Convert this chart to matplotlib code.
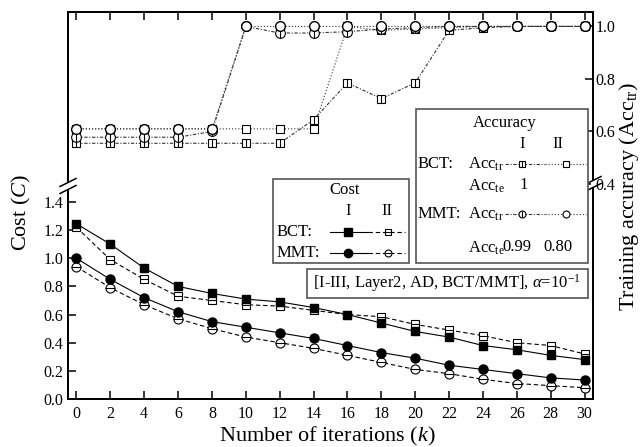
import matplotlib
matplotlib.use("Agg")
import matplotlib.pyplot as plt
from matplotlib.lines import Line2D
from matplotlib.patches import Rectangle

plt.rcParams['font.family'] = ['Liberation Serif', 'DejaVu Serif']
plt.rcParams['mathtext.fontset'] = 'custom'
plt.rcParams['mathtext.rm'] = 'Liberation Serif'
plt.rcParams['mathtext.it'] = 'Liberation Serif:italic'

# ---------------- data ----------------
iters = [0, 2, 4, 6, 8, 10, 12, 14, 16, 18, 20, 22, 24, 26, 28, 30]

cost_bct_I = [1.245, 1.10, 0.93, 0.80, 0.75, 0.71, 0.69, 0.65, 0.60, 0.54, 0.48, 0.44, 0.38, 0.35, 0.31, 0.28]
cost_bct_II = [1.22, 0.99, 0.85, 0.73, 0.70, 0.67, 0.66, 0.63, 0.60, 0.585, 0.53, 0.49, 0.45, 0.40, 0.38, 0.32]
cost_mmt_I = [1.00, 0.85, 0.72, 0.62, 0.55, 0.51, 0.47, 0.43, 0.38, 0.33, 0.29, 0.24, 0.21, 0.18, 0.15, 0.135]
cost_mmt_II = [0.94, 0.79, 0.67, 0.57, 0.50, 0.44, 0.40, 0.36, 0.31, 0.26, 0.21, 0.18, 0.14, 0.11, 0.095, 0.08]

acc_bct_I = [0.555, 0.555, 0.555, 0.555, 0.555, 0.555, 0.555, 0.645, 0.785, 0.725, 0.785, 0.985, 0.995, 1.0, 1.0, 1.0]
acc_bct_II = [0.61, 0.61, 0.61, 0.61, 0.61, 0.61, 0.61, 0.61, 1.0, 0.985, 0.99, 0.995, 1.0, 1.0, 1.0, 1.0]
acc_mmt_I = [0.578, 0.578, 0.578, 0.578, 0.60, 1.0, 0.975, 0.975, 0.98, 0.99, 0.995, 1.0, 1.0, 1.0, 1.0, 1.0]
acc_mmt_II = [0.61, 0.61, 0.61, 0.61, 0.61, 1.0, 1.0, 1.0, 1.0, 1.0, 1.0, 1.0, 1.0, 1.0, 1.0, 1.0]

x_ticks = list(range(0, 31, 2))
cost_ticks = [0.0, 0.2, 0.4, 0.6, 0.8, 1.0, 1.2, 1.4]
acc_ticks = [0.4, 0.6, 0.8, 1.0]
acc_te_bct = ['1', '']
acc_te_mmt = ['0.99', '0.80']

# ---------------- figure ----------------
W, H = 644, 447
fig = plt.figure(figsize=(W / 100, H / 100), dpi=100)
L, R, T, B = 68, 593, 12, 399
ax = fig.add_axes([L / W, 1 - B / H, (R - L) / W, (B - T) / H])
ax2 = ax.twinx()

ax.set_xlim(-0.5, 30.5)
ax.set_ylim(0, 2.75)
ax2.set_ylim(-0.419, 1.055)

DASHDOT = (0, (3, 1.5, 1, 1.5))
DOTTED = (0, (1, 1.8))
DASHED = (0, (4, 2.5))
lw = 0.8
ms = 6.0
acc_col = '#333333'

# accuracy (right axis)
ax2.plot(iters, acc_bct_II, ls=DOTTED, color=acc_col, lw=lw, marker='s', ms=ms, mfc='white', mec='black', mew=0.8, zorder=3)
ax2.plot(iters, acc_bct_I, ls=DASHDOT, color=acc_col, lw=lw, marker='s', ms=ms, mfc='white', mec='black', mew=0.8, zorder=4)
ax2.plot(iters, acc_bct_I, ls='none', marker='|', ms=ms, mec='black', mew=0.8, zorder=4)
ax2.plot(iters, acc_mmt_I, ls=DASHDOT, color=acc_col, lw=lw, marker='o', ms=ms + 1, mfc='white', mec='black', mew=0.8, zorder=5)
ax2.plot(iters, acc_mmt_I, ls='none', marker='|', ms=ms + 1, mec='black', mew=0.8, zorder=5)
ax2.plot(iters, acc_mmt_II, ls=DOTTED, color=acc_col, lw=lw, marker='o', ms=ms + 1, mfc='white', mec='black', mew=1.0, zorder=6)

# cost (left axis)
ax.plot(iters, cost_bct_II, ls=DASHED, color='black', lw=lw, marker='s', ms=ms, mfc='white', mec='black', mew=0.8, zorder=3)
ax.plot(iters, cost_bct_II, ls='none', marker='_', ms=ms, mec='black', mew=0.8, zorder=3)
ax.plot(iters, cost_bct_I, ls='-', color='black', lw=lw, marker='s', ms=ms, mfc='black', mec='black', zorder=4)
ax.plot(iters, cost_mmt_II, ls=DASHED, color='black', lw=lw, marker='o', ms=ms + 0.5, mfc='white', mec='black', mew=0.8, zorder=3)
ax.plot(iters, cost_mmt_II, ls='none', marker='_', ms=ms + 0.5, mec='black', mew=0.8, zorder=3)
ax.plot(iters, cost_mmt_I, ls='-', color='black', lw=lw, marker='o', ms=ms + 0.5, mfc='black', mec='black', zorder=4)

ax.set_zorder(ax2.get_zorder() + 1)
ax.patch.set_visible(False)

# ticks
ax.set_xticks(x_ticks)
ax.set_xticklabels([str(v) for v in x_ticks])
ax.set_yticks(cost_ticks)
ax.set_yticklabels(['%.1f' % v for v in cost_ticks])
ax2.set_yticks(acc_ticks)
ax2.set_yticklabels(['%.1f' % v for v in acc_ticks])
ax.tick_params(axis='x', which='both', direction='in', top=True, length=6, width=1.1, labelsize=11.5, pad=5)
ax.tick_params(axis='y', direction='in', length=6, width=1.1, labelsize=11.5, right=False)
ax2.tick_params(axis='y', direction='in', length=6, width=1.1, labelsize=11.5, pad=2)
for a in (ax, ax2):
    for s in a.spines.values():
        s.set_linewidth(1.3)

# axis labels
fig.text(21 / W, 1 - 212 / H, 'Cost ($C$)', rotation=90, ha='center', va='center', fontsize=16)
fig.text(629 / W, 1 - 197 / H, r'Training accuracy (Acc$_{\rm tr}$)', rotation=90, ha='center', va='center', fontsize=16)
fig.text(327 / W, 1 - 436 / H, 'Number of iterations ($k$)', ha='center', va='center', fontsize=16)


def P(x, y):
    return (x / W, 1 - y / H)


def fline(xs, ys, **kw):
    fig.add_artist(Line2D([x / W for x in xs], [1 - y / H for y in ys], transform=fig.transFigure, **kw))


# axis breaks
for xb, yb in ((L, 186), (R, 184)):
    fig.add_artist(Rectangle(P(xb - 2, yb + 3), 4 / W, 6 / H, transform=fig.transFigure,
                             facecolor='white', edgecolor='none', zorder=10))
    for off in (-3.5, 3.5):
        fline([xb - 8, xb + 8], [yb + off + 4, yb + off - 4], color='black', lw=1.1, zorder=11)

# cost legend box
box_kw = dict(transform=fig.transFigure, facecolor='white', edgecolor='#555555', lw=1.2, zorder=12)
fig.add_artist(Rectangle(P(273, 263), 136 / W, 84 / H, **box_kw))
fig.text(*P(345, 190), 'Cost', ha='center', va='center', fontsize=12, zorder=13)
fig.text(*P(348, 211), 'I', ha='center', va='center', fontsize=12, zorder=13)
fig.text(*P(387, 211), 'II', ha='center', va='center', fontsize=12, zorder=13)
fig.text(*P(277, 232), 'BCT:', ha='left', va='center', fontsize=12, zorder=13)
fig.text(*P(277, 253), 'MMT:', ha='left', va='center', fontsize=12, zorder=13)
for yrow, mk in ((232, 's'), (253, 'o')):
    fline([330, 368], [yrow, yrow], color='black', lw=lw, zorder=13)
    fline([368, 405], [yrow, yrow], color='black', lw=lw, ls=DASHED, zorder=13)
    fline([348], [yrow], ls='none', marker=mk, ms=ms, mfc='black', mec='black', zorder=14)
    fline([388], [yrow], ls='none', marker=mk, ms=ms - 1, mfc='white', mec='black', mew=0.8, zorder=14)
    fline([388], [yrow], ls='none', marker='_', ms=ms - 1, mec='black', mew=0.8, zorder=14)

# accuracy legend box
fig.add_artist(Rectangle(P(416, 263), 172 / W, 154 / H, **box_kw))
fig.text(*P(505, 123), 'Accuracy', ha='center', va='center', fontsize=12, zorder=13)
fig.text(*P(522, 144), 'I', ha='center', va='center', fontsize=12, zorder=13)
fig.text(*P(558, 144), 'II', ha='center', va='center', fontsize=12, zorder=13)
fig.text(*P(418, 164), 'BCT:', ha='left', va='center', fontsize=12, zorder=13)
fig.text(*P(468, 164), r'Acc$_{\rm tr}$', ha='left', va='center', fontsize=12, zorder=13)
fig.text(*P(468, 186), r'Acc$_{\rm te}$', ha='left', va='center', fontsize=12, zorder=13)
fig.text(*P(524, 185), acc_te_bct[0], ha='center', va='center', fontsize=12, zorder=13)
fig.text(*P(418, 214), 'MMT:', ha='left', va='center', fontsize=12, zorder=13)
fig.text(*P(468, 214), r'Acc$_{\rm tr}$', ha='left', va='center', fontsize=12, zorder=13)
fig.text(*P(468, 248), r'Acc$_{\rm te}$', ha='left', va='center', fontsize=12, zorder=13)
fig.text(*P(502, 247), acc_te_mmt[0], ha='left', va='center', fontsize=12, zorder=13)
fig.text(*P(558, 247), acc_te_mmt[1], ha='center', va='center', fontsize=12, zorder=13)
for yrow, mk in ((164, 's'), (214, 'o')):
    fline([505, 545], [yrow, yrow], color=acc_col, lw=lw, ls=DASHDOT, zorder=13)
    fline([545, 586], [yrow, yrow], color=acc_col, lw=lw, ls=DOTTED, zorder=13)
    fline([522], [yrow], ls='none', marker=mk, ms=ms - 1, mfc='white', mec='black', mew=0.8, zorder=14)
    fline([522], [yrow], ls='none', marker='|', ms=ms - 1, mec='black', mew=0.8, zorder=14)
    fline([566], [yrow], ls='none', marker=mk, ms=ms - 1, mfc='white', mec='black', mew=0.8, zorder=14)

# annotation box
fig.add_artist(Rectangle(P(307, 298), 281 / W, 29 / H, **box_kw))
fig.text(*P(447, 283), r'[I-III, Layer2, AD, BCT/MMT], $\alpha$=10$^{-1}$', ha='center', va='center', fontsize=12, zorder=13)

fig.savefig('out.png', dpi=100)
